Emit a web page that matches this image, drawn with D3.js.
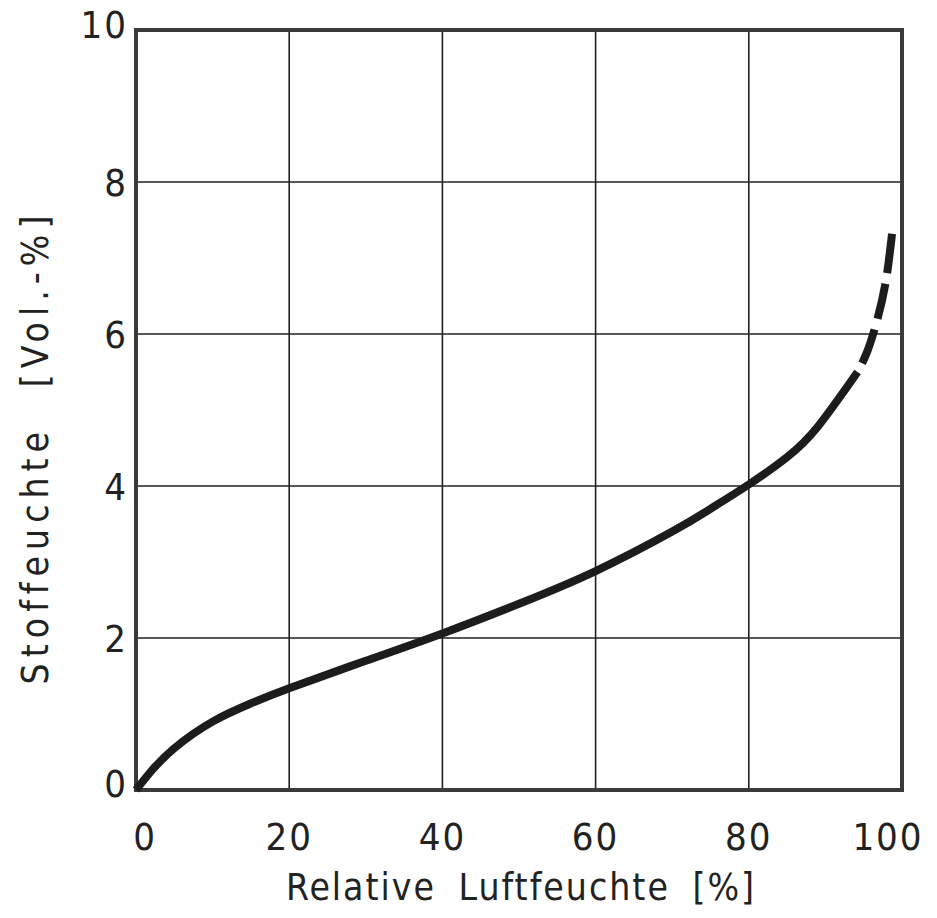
<!DOCTYPE html>
<html>
<head>
<meta charset="utf-8">
<script src="https://cdn.jsdelivr.net/npm/d3@7/dist/d3.min.js"></script>
<style>
  body { margin: 0; background: #fff; }
  text { font-family: "DejaVu Sans Condensed", "DejaVu Sans", sans-serif; fill: #222; }
</style>
</head>
<body>
<svg id="chart" width="937" height="918"></svg>
<script>
// sorption curve
var humSolid = [0, 2, 5, 10, 15, 20, 30, 40, 50, 60, 70, 75, 80, 85, 89, 94.2];
var moistSolid = [0, 0.25, 0.55, 0.9, 1.14, 1.34, 1.7, 2.06, 2.45, 2.88, 3.4, 3.7, 4.02, 4.38, 4.78, 5.5];
var humDashed = [94.2, 95.5, 96.8, 97.9, 98.7];
var moistDashed = [5.5, 5.78, 6.2, 6.7, 7.32];

var xTicks = [0, 20, 40, 60, 80, 100];
var yTicks = [0, 2, 4, 6, 8, 10];

var margin = {top: 30, right: 35, bottom: 128, left: 136};
var width = 937, height = 918;

var svg = d3.select("#chart");

var x = d3.scaleLinear().domain([0, 100]).range([margin.left, width - margin.right]);
var y = d3.scaleLinear().domain([0, 10]).range([height - margin.bottom, margin.top]);

// grid
svg.append("g").selectAll("line")
    .data(xTicks.slice(1, -1))
    .enter().append("line")
    .attr("x1", d => x(d)).attr("x2", d => x(d))
    .attr("y1", y(0)).attr("y2", y(10))
    .attr("stroke", "#222").attr("stroke-width", 1.6);

svg.append("g").selectAll("line")
    .data(yTicks.slice(1, -1))
    .enter().append("line")
    .attr("x1", x(0)).attr("x2", x(100))
    .attr("y1", d => y(d)).attr("y2", d => y(d))
    .attr("stroke", "#222").attr("stroke-width", 1.6);

// frame
svg.append("rect")
    .attr("x", x(0)).attr("y", y(10))
    .attr("width", x(100) - x(0)).attr("height", y(0) - y(10))
    .attr("fill", "none").attr("stroke", "#3a3a3a").attr("stroke-width", 4);

// tick labels
svg.append("g").selectAll("text")
    .data(xTicks)
    .enter().append("text")
    .attr("x", d => x(d) + (d === 0 ? 9 : (d === 100 ? -14 : 0)))
    .attr("y", y(0) + 60)
    .attr("text-anchor", "middle")
    .style("font-size", "38px")
    .style("letter-spacing", "2px")
    .text(d => d);

svg.append("g").selectAll("text")
    .data(yTicks)
    .enter().append("text")
    .attr("x", x(0) - 8)
    .attr("y", d => y(d) + 14 - (d === 10 ? 6 : 0) - (d === 0 ? 7 : 0))
    .attr("text-anchor", "end")
    .style("font-size", "38px")
    .style("letter-spacing", "2px")
    .text(d => d);

// axis titles
svg.append("text")
    .attr("x", (x(0) + x(100)) / 2 + 2)
    .attr("y", 900)
    .attr("text-anchor", "middle")
    .style("font-size", "37px")
    .style("letter-spacing", "2px")
    .style("word-spacing", "10px")
    .text("Relative Luftfeuchte [%]");

svg.append("text")
    .attr("transform", "translate(48," + 447 + ") rotate(-90)")
    .attr("text-anchor", "middle")
    .style("font-size", "37px")
    .style("letter-spacing", "6px")
    .style("word-spacing", "22px")
    .text("Stoffeuchte [Vol.-%]");

// curve
var line = d3.line()
    .x(d => x(d[0]))
    .y(d => y(d[1]))
    .curve(d3.curveNatural);

svg.append("path")
    .datum(d3.zip(humSolid, moistSolid))
    .attr("d", line)
    .attr("fill", "none")
    .attr("stroke", "#1c1c1c")
    .attr("stroke-width", 8);

svg.append("path")
    .datum(d3.zip(humDashed, moistDashed))
    .attr("d", line)
    .attr("fill", "none")
    .attr("stroke", "#1c1c1c")
    .attr("stroke-width", 8)
    .attr("stroke-dasharray", "0 10 36 11 36 11 40");
</script>
</body>
</html>
